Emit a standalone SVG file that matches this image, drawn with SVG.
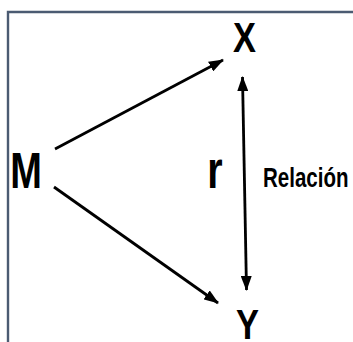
<svg xmlns="http://www.w3.org/2000/svg" width="353" height="342" viewBox="0 0 353 342">
<defs>
<style>
.lbl{font-family:"Liberation Sans",Arial,sans-serif;font-weight:bold;fill:#000;}
.conn{stroke:#000;stroke-width:2.8;fill:none;}
</style>
<marker id="ah" viewBox="0 0 15 11" refX="14" refY="5.5" markerWidth="15" markerHeight="11" markerUnits="userSpaceOnUse" orient="auto-start-reverse">
<path d="M0,0 L15,5.5 L0,11 Z" fill="#000"/>
</marker>
</defs>
<rect width="353" height="342" fill="#fff"/>
<path d="M8,342 V12 H353" fill="none" stroke="#4b5b72" stroke-width="2.4"/>
<g id="connectors">
<line class="conn" x1="55" y1="149" x2="223" y2="60" marker-end="url(#ah)"/>
<line class="conn" x1="54" y1="187" x2="218" y2="303" marker-end="url(#ah)"/>
<line class="conn" x1="242.5" y1="77" x2="246.5" y2="290" marker-start="url(#ah)" marker-end="url(#ah)"/>
</g>
<g id="node-X"><text class="lbl" transform="translate(244.5,52) scale(0.82,1)" font-size="42" text-anchor="middle">X</text></g>
<g id="node-M"><text class="lbl" transform="translate(26,187.5) scale(0.76,1)" font-size="50" text-anchor="middle">M</text></g>
<g id="node-Y"><text class="lbl" transform="translate(247.5,338.5) scale(0.82,1)" font-size="42" text-anchor="middle">Y</text></g>
<g id="label-r"><text class="lbl" transform="translate(215,187.5) scale(0.76,1)" font-size="52" text-anchor="middle">r</text></g>
<g id="label-relacion"><text class="lbl" transform="translate(263,187) scale(0.76,1)" font-size="27">Relación</text></g>
</svg>
